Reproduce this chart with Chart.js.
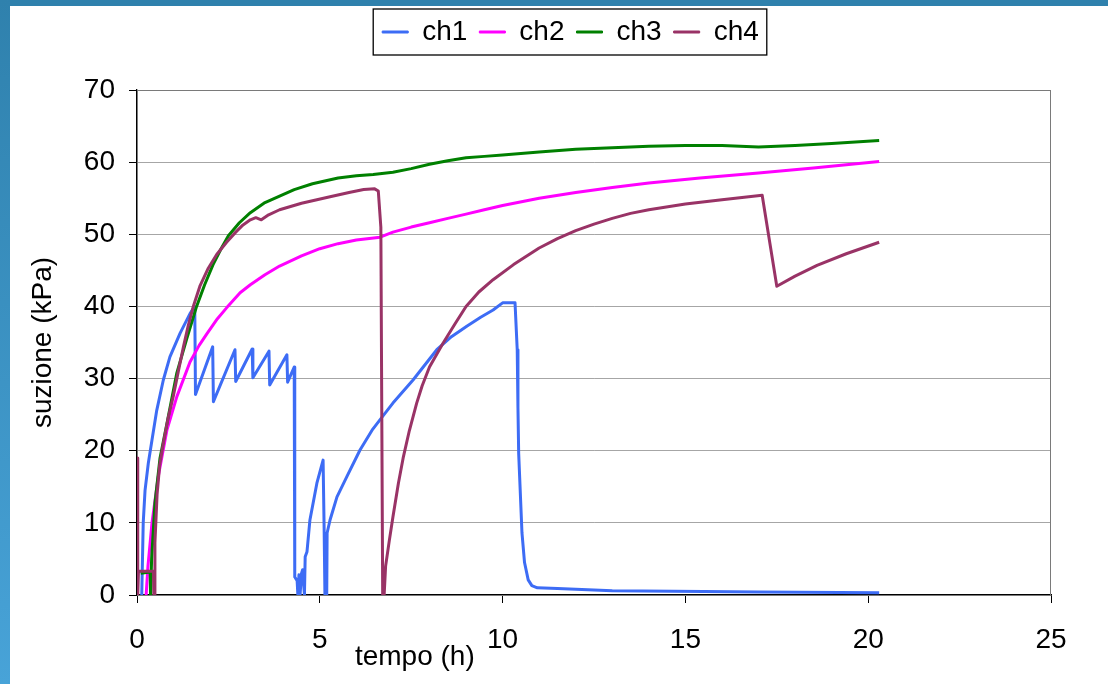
<!DOCTYPE html>
<html lang="it">
<head>
    <meta charset="UTF-8">
    <title>suzione - tempo</title>
    <style>
        body { margin: 0; background: #fff; }
        #wrap { position: relative; width: 1108px; height: 684px; overflow: hidden; }
        #myChart { position: absolute; left: 0; top: 0; }
        #frameTop { position: absolute; left: 0; top: 0; width: 1108px; height: 6px; background: #2f81ad; }
        #frameLeft { position: absolute; left: 0; top: 0; width: 10px; height: 684px; background: linear-gradient(#2f81ad, #48a3d8); }
    </style>
</head>
<body>
<div id="wrap">
    <canvas id="myChart" width="1108" height="684"></canvas>
    <div id="frameTop"></div>
    <div id="frameLeft"></div>
</div>

<script src="https://cdn.jsdelivr.net/npm/chart.js@4/dist/chart.umd.min.js"></script>

<script>
    // data: time (h) and suction (kPa) for each channel
    const ch1T = [0.1, 0.13, 0.17, 0.22, 0.31, 0.41, 0.54, 0.72, 0.9, 1.18, 1.45, 1.58, 1.6,
        2.07, 2.09, 2.68, 2.7, 3.15, 3.17, 3.61, 3.63, 4.1, 4.12, 4.3, 4.31, 4.32, 4.38, 4.4, 4.43, 4.46,
        4.5, 4.53, 4.58, 4.6, 4.65, 4.73, 4.92, 5.09, 5.12, 5.14, 5.19, 5.2, 5.28, 5.47, 5.74, 6.1,
        6.45, 6.65, 7.0, 7.55, 8.2, 8.6, 9.03, 9.4, 9.74, 10.0, 10.34, 10.4, 10.42, 10.44, 10.53, 10.6,
        10.7, 10.8, 10.95, 11.5, 12.5, 13.0, 15.5, 17.0, 20.3];
    const ch1V = [0, 0, 10, 14.5, 18.3, 21.5, 25.6, 29.8, 33, 36.3, 39, 40, 27.8,
        34.4, 26.8, 34, 29.6, 34.1, 30.1, 33.8, 29.1, 33.3, 29.5, 31.6, 19, 2.5, 2, 0, 2.8, 0,
        3, 3.5, 0, 5.3, 6, 10.4, 15.5, 18.7, 8.6, 0, 0, 8.6, 10.4, 13.6, 16.4, 20.1,
        23, 24.3, 26.6, 29.8, 34, 35.8, 37.3, 38.5, 39.5, 40.5, 40.5, 34, 26, 19.6, 8.6, 4.5,
        2.1, 1.3, 1.0, 0.9, 0.7, 0.6, 0.5, 0.4, 0.3];

    const ch2T = [0.25, 0.3, 0.41, 0.58, 0.82, 1.09, 1.45, 1.7, 1.91, 2.2, 2.45, 2.82, 3.1, 3.5, 3.9, 4.5, 5.0,
        5.5, 6.0, 6.65, 7.0, 7.5, 8.0, 8.5, 9.0, 9.5, 10.0, 11.0, 12.0, 13.0, 14.0, 15.4, 17.0, 18.5, 20.3];
    const ch2V = [0, 4, 10, 16.4, 22.9, 27.5, 32.3, 34.6, 36.2, 38.3, 39.8, 41.9, 43, 44.4, 45.6, 47, 48,
        48.7, 49.2, 49.6, 50.3, 51, 51.6, 52.2, 52.8, 53.4, 54, 55, 55.8, 56.5, 57.1, 57.8, 58.5, 59.2, 60.1];

    const ch3T = [0.1, 0.36, 0.37, 0.4, 0.49, 0.63, 0.82, 1.09, 1.36, 1.63, 1.85, 2.08, 2.3, 2.5,
        2.8, 3.1, 3.5, 3.9, 4.3, 4.8, 5.5, 6.0, 6.46, 7.0, 7.5, 8.0, 8.5, 9.0, 9.5, 10.0, 11.0, 12.0, 13.0,
        14.0, 15.0, 16.0, 17.0, 18.0, 19.0, 20.3];
    const ch3V = [3, 3.2, 0, 5, 12.7, 19, 23.8, 30.8, 35.5, 40, 43, 45.8, 48, 49.8,
        51.6, 53, 54.4, 55.3, 56.2, 57, 57.8, 58.1, 58.3, 58.6, 59.1, 59.7, 60.2, 60.6, 60.8, 61, 61.4, 61.8, 62,
        62.2, 62.3, 62.3, 62.1, 62.3, 62.6, 63];

    const ch4T = [0.0, 0.02, 0.04, 0.45, 0.46, 0.47, 0.49, 0.55, 0.62, 0.72, 0.85, 0.99, 1.13, 1.27, 1.4, 1.54,
        1.72, 1.95, 2.18, 2.45, 2.7, 2.9, 3.1, 3.25, 3.4, 3.6, 3.9, 4.5, 5.28, 5.8, 6.2, 6.5, 6.6, 6.67, 6.72,
        6.76, 6.8, 6.9, 7.0, 7.15, 7.28, 7.45, 7.65, 7.8, 8.0, 8.37, 8.7, 9.0, 9.35, 9.74, 10.3, 11.0, 11.5,
        12.0, 12.5, 13.0, 13.5, 14.0, 15.0, 16.0, 17.1, 17.5, 18.0, 18.6, 19.4, 20.3];
    const ch4V = [19, 0, 3.3, 3.3, 0, 0, 7.2, 14, 18, 21, 24.5, 27.5, 31, 34.4, 37.3, 40,
        42.8, 45.3, 47.2, 48.9, 50.3, 51.3, 52, 52.3, 52, 52.7, 53.4, 54.3, 55.2, 55.8, 56.2, 56.3, 56, 51, 0,
        0, 4, 7.5, 10.8, 15.5, 19, 22.8, 26.6, 29, 31.6, 34.9, 37.6, 40, 42, 43.7, 45.8, 48.1, 49.4,
        50.5, 51.4, 52.2, 52.9, 53.4, 54.2, 54.8, 55.4, 42.8, 44.2, 45.7, 47.3, 48.9];

    const seriesNames = ['ch1', 'ch2', 'ch3', 'ch4'];
    const seriesColors = ['#3d6cf5', '#ff00ff', '#008000', '#993366'];
    const xTicks = [0, 5, 10, 15, 20, 25];
    const yTicks = [0, 10, 20, 30, 40, 50, 60, 70];

    const fontFamily = '"Liberation Sans", Arial, sans-serif';
    const fontSize = 28;

    function toPoints(ts, vs) {
        return ts.map((t, i) => ({ x: t, y: vs[i] }));
    }

    const allT = [ch1T, ch2T, ch3T, ch4T];
    const allV = [ch1V, ch2V, ch3V, ch4V];

    // legend box, plot frame and the x title that sits between the 5 and 10 labels
    const extras = {
        id: 'extras',
        beforeInit(chart) {
            const legend = chart.legend;
            if (!legend) return;
            const fit = legend.fit;
            legend.fit = function () {
                fit.call(this);
                this.height = 84;
            };
        },
        afterLayout(chart) {
            // source legend is a bit right of centre
            chart.legend.left += 35;
            chart.legend.right += 35;
        },
        beforeDatasetsDraw(chart) {
            const a = chart.chartArea;
            const ctx = chart.ctx;
            ctx.save();
            ctx.strokeStyle = '#7a7a7a';
            ctx.lineWidth = 1;
            ctx.strokeRect(a.left + 0.5, a.top + 0.5, a.right - a.left - 1, a.bottom - a.top);
            ctx.restore();
        },
        afterDraw(chart) {
            const hb = chart.legend.legendHitBoxes;
            const ctx = chart.ctx;
            ctx.save();
            if (hb && hb.length) {
                const first = hb[0], last = hb[hb.length - 1];
                const cy = first.top + first.height / 2;
                const left = first.left - 9, right = last.left + last.width + 8;
                ctx.strokeStyle = '#000';
                ctx.lineWidth = 1.3;
                ctx.strokeRect(left, cy - 23, right - left, 46);
            }
            const xs = chart.scales.x;
            ctx.font = fontSize + 'px ' + fontFamily;
            ctx.fillStyle = '#000';
            ctx.textAlign = 'center';
            ctx.textBaseline = 'middle';
            ctx.fillText('tempo (h)', xs.getPixelForValue(7.6), xs.top + 62);
            ctx.restore();
        }
    };

    const myChart = new Chart('myChart', {
        type: 'line',
        data: {
            datasets: seriesNames.map((name, i) => ({
                label: name,
                data: toPoints(allT[i], allV[i]),
                borderColor: seriesColors[i],
                backgroundColor: seriesColors[i],
                borderWidth: 3,
                borderJoinStyle: 'round',
                pointRadius: 0,
                tension: 0,
                fill: false,
                order: 4 - i
            }))
        },
        options: {
            responsive: false,
            animation: false,
            layout: { padding: { left: 20, right: 57, top: 6, bottom: 0 } },
            plugins: {
                tooltip: { enabled: false },
                legend: {
                    position: 'top',
                    labels: {
                        color: '#000',
                        font: { family: fontFamily, size: fontSize },
                        boxWidth: 26,
                        boxHeight: 2,
                        padding: 12,
                        sort: (a, b) => a.datasetIndex - b.datasetIndex,
                        generateLabels: (chart) => Chart.defaults.plugins.legend.labels.generateLabels(chart)
                            .map(l => Object.assign(l, { fillStyle: l.strokeStyle, lineWidth: 1 }))
                    }
                }
            },
            scales: {
                x: {
                    type: 'linear',
                    min: 0,
                    max: 25,
                    afterBuildTicks: (s) => { s.ticks = xTicks.map(v => ({ value: v })); },
                    afterFit: (s) => { s.height = 89; },
                    grid: { drawOnChartArea: false, tickLength: 8, tickColor: '#000' },
                    border: { color: '#000', width: 1.3 },
                    ticks: { color: '#000', font: { family: fontFamily, size: fontSize }, padding: 20, maxRotation: 0 }
                },
                y: {
                    min: 0,
                    max: 70,
                    afterBuildTicks: (s) => { s.ticks = yTicks.map(v => ({ value: v })); },
                    afterFit: (s) => { s.width = 117; },
                    grid: { color: '#a6a6a6', tickLength: 8, tickColor: '#000' },
                    border: { color: '#000', width: 1.3 },
                    ticks: { color: '#000', font: { family: fontFamily, size: fontSize }, padding: 14 },
                    title: {
                        display: true,
                        text: 'suzione (kPa)',
                        color: '#000',
                        font: { family: fontFamily, size: fontSize },
                        padding: { top: 6, bottom: 0 }
                    }
                }
            }
        },
        plugins: [extras]
    });
</script>
</body>
</html>
